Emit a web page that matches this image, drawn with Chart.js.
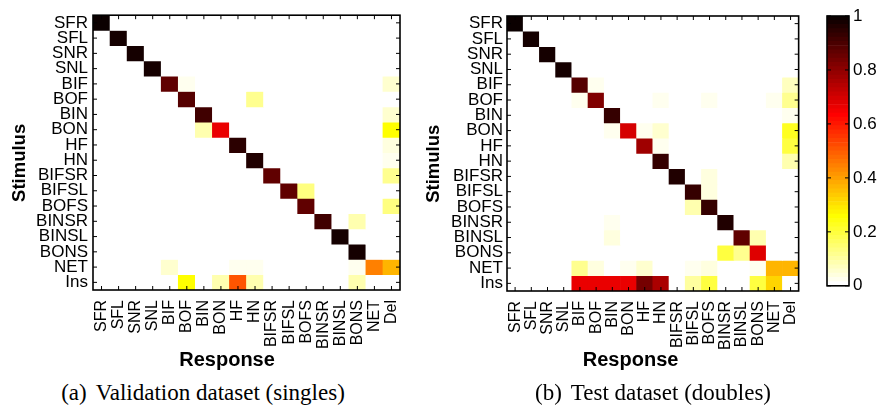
<!DOCTYPE html>
<html>
<head>
<meta charset="utf-8">
<script src="https://cdn.jsdelivr.net/npm/chart.js@4.4.0/dist/chart.umd.min.js"></script>
<style>
  body { margin: 0; background: #fff; }
  #wrap { position: relative; width: 881px; height: 407px; overflow: hidden; }
  .box { position: absolute; }
  .cap { position: absolute; top: 381px; width: 400px; text-align: center; white-space: nowrap;
         font-family: "Liberation Serif", "Times New Roman", serif; font-size: 23px; line-height: 23px; color: #000; }
  .cap span + span { margin-left: 9px; }
</style>
</head>
<body>
<div id="wrap">
  <div class="box" style="left:0;top:0;width:440px;height:375px"><canvas id="valid"></canvas></div>
  <div class="box" style="left:415px;top:0;width:405px;height:375px"><canvas id="test"></canvas></div>
  <div class="box" style="left:820px;top:0;width:61px;height:300px"><canvas id="bar"></canvas></div>
  <div class="cap" style="left:3px"><span>(a)</span><span>Validation dataset (singles)</span></div>
  <div class="cap" style="left:453px"><span>(b)</span><span>Test dataset (doubles)</span></div>
</div>
<script>
const responses = ['SFR', 'SFL', 'SNR', 'SNL', 'BIF', 'BOF', 'BIN', 'BON', 'HF', 'HN',
  'BIFSR', 'BIFSL', 'BOFS', 'BINSR', 'BINSL', 'BONS', 'NET', 'Del'];
const stimuli = ['SFR', 'SFL', 'SNR', 'SNL', 'BIF', 'BOF', 'BIN', 'BON', 'HF', 'HN',
  'BIFSR', 'BIFSL', 'BOFS', 'BINSR', 'BINSL', 'BONS', 'NET', 'Ins'];

// rows = stimulus, columns = response
const validation = [
  [0.99, 0, 0, 0, 0, 0, 0, 0, 0, 0, 0, 0, 0, 0, 0, 0, 0, 0],
  [0, 0.98, 0, 0, 0, 0, 0, 0, 0, 0, 0, 0, 0, 0, 0, 0, 0, 0],
  [0, 0, 0.98, 0, 0, 0, 0, 0, 0, 0, 0, 0, 0, 0, 0, 0, 0, 0],
  [0, 0, 0, 0.98, 0, 0, 0, 0, 0, 0, 0, 0, 0, 0, 0, 0, 0, 0],
  [0, 0, 0, 0, 0.87, 0.03, 0, 0, 0, 0, 0, 0, 0, 0, 0, 0, 0, 0.06],
  [0, 0, 0, 0, 0, 0.89, 0, 0, 0, 0.11, 0, 0, 0, 0, 0, 0, 0, 0],
  [0, 0, 0, 0, 0, 0, 0.92, 0, 0, 0, 0, 0, 0, 0, 0, 0, 0, 0.06],
  [0, 0, 0, 0, 0, 0, 0.08, 0.66, 0, 0, 0, 0, 0, 0, 0, 0, 0, 0.25],
  [0, 0, 0, 0, 0, 0, 0, 0, 0.95, 0, 0, 0, 0, 0, 0, 0, 0, 0.04],
  [0, 0, 0, 0, 0, 0, 0, 0, 0, 0.96, 0, 0, 0, 0, 0, 0, 0, 0.03],
  [0, 0, 0, 0, 0, 0, 0, 0, 0, 0, 0.87, 0, 0, 0, 0, 0, 0, 0.12],
  [0, 0, 0, 0, 0, 0, 0, 0, 0, 0, 0, 0.87, 0.13, 0, 0, 0, 0, 0],
  [0, 0, 0, 0, 0, 0, 0, 0, 0, 0, 0, 0, 0.87, 0, 0, 0, 0, 0.13],
  [0, 0, 0, 0, 0, 0, 0, 0, 0, 0, 0, 0, 0, 0.91, 0, 0.08, 0, 0],
  [0, 0, 0, 0, 0, 0, 0, 0, 0, 0, 0, 0, 0, 0, 0.97, 0, 0, 0],
  [0, 0, 0, 0, 0, 0, 0, 0, 0, 0, 0, 0, 0, 0, 0, 0.98, 0, 0],
  [0, 0, 0, 0, 0.05, 0, 0, 0, 0.03, 0.03, 0, 0, 0, 0, 0, 0.03, 0.44, 0.37],
  [0, 0, 0, 0, 0, 0.25, 0, 0.09, 0.51, 0.09, 0, 0, 0, 0, 0, 0.09, 0, 0]
];

const test = [
  [0.99, 0, 0, 0, 0, 0, 0, 0, 0, 0, 0, 0, 0, 0, 0, 0, 0, 0],
  [0, 0.98, 0, 0, 0, 0, 0, 0, 0, 0, 0, 0, 0, 0, 0, 0, 0, 0],
  [0, 0, 0.98, 0, 0, 0, 0, 0, 0, 0, 0, 0, 0, 0, 0, 0, 0, 0],
  [0, 0, 0, 0.98, 0, 0, 0, 0, 0, 0, 0, 0, 0, 0, 0, 0, 0, 0],
  [0, 0, 0, 0, 0.88, 0.03, 0, 0, 0, 0, 0, 0, 0, 0, 0, 0, 0, 0.07],
  [0, 0, 0, 0, 0.03, 0.82, 0, 0, 0, 0.02, 0, 0, 0.02, 0, 0, 0, 0.02, 0.12],
  [0, 0, 0, 0, 0, 0, 0.93, 0, 0, 0, 0, 0, 0, 0, 0, 0, 0, 0.03],
  [0, 0, 0, 0, 0, 0, 0.03, 0.69, 0.03, 0.05, 0, 0, 0, 0, 0, 0, 0, 0.22],
  [0, 0, 0, 0, 0, 0, 0, 0, 0.77, 0.03, 0, 0, 0, 0, 0, 0, 0, 0.2],
  [0, 0, 0, 0, 0, 0, 0, 0, 0, 0.93, 0, 0, 0, 0, 0, 0, 0, 0.08],
  [0, 0, 0, 0, 0, 0, 0, 0, 0, 0, 0.96, 0, 0.04, 0, 0, 0, 0, 0],
  [0, 0, 0, 0, 0, 0, 0, 0, 0, 0, 0, 0.93, 0.04, 0, 0, 0, 0, 0],
  [0, 0, 0, 0, 0, 0, 0, 0, 0, 0, 0, 0.08, 0.93, 0, 0, 0, 0, 0],
  [0, 0, 0, 0, 0, 0, 0.03, 0, 0, 0, 0, 0, 0, 0.96, 0, 0, 0, 0],
  [0, 0, 0, 0, 0, 0, 0.04, 0, 0, 0, 0, 0, 0, 0, 0.87, 0.08, 0, 0],
  [0, 0, 0, 0, 0, 0, 0, 0, 0, 0, 0, 0, 0, 0.2, 0.12, 0.68, 0, 0],
  [0, 0, 0, 0, 0.12, 0.04, 0, 0.02, 0.05, 0, 0, 0.02, 0.04, 0, 0, 0.02, 0.37, 0.37],
  [0, 0, 0, 0, 0.66, 0.66, 0.66, 0.66, 0.83, 0.76, 0, 0.1, 0.19, 0, 0, 0.19, 0.32, 0]
];

const colorbarTicks = [0, 0.2, 0.4, 0.6, 0.8, 1];

// matlab hot(64), flipped so 0 is white and 1 is black
const NLEV = 64;
const colormap = [];
for (let i = NLEV; i >= 1; i--) {
  const r = i <= 24 ? i / 24 : 1;
  const g = i <= 24 ? 0 : (i <= 48 ? (i - 24) / 24 : 1);
  const b = i <= 48 ? 0 : (i - 48) / 16;
  colormap.push(`rgb(${Math.round(r * 255)},${Math.round(g * 255)},${Math.round(b * 255)})`);
}
const shade = v => colormap[Math.min(NLEV - 1, Math.floor(v * NLEV))];

Chart.defaults.font.family = '"Liberation Sans", Arial, sans-serif';
Chart.defaults.color = '#000';

// box around the plot with matlab style inward ticks
const frame = {
  id: 'frame',
  afterDatasetsDraw(chart, args, opts) {
    const { ctx, chartArea: a, scales: { x, y } } = chart;
    ctx.save();
    ctx.strokeStyle = '#000';
    ctx.lineWidth = 1;
    ctx.beginPath();
    if (opts.xTicks !== false) {
      x.ticks.forEach((t, i) => {
        const px = x.getPixelForTick(i);
        ctx.moveTo(px, a.bottom); ctx.lineTo(px, a.bottom - 4);
        ctx.moveTo(px, a.top); ctx.lineTo(px, a.top + 4);
      });
    }
    y.ticks.forEach((t, i) => {
      const py = y.getPixelForTick(i);
      ctx.moveTo(a.left, py); ctx.lineTo(a.left + 4, py);
      ctx.moveTo(a.right, py); ctx.lineTo(a.right - 4, py);
    });
    ctx.stroke();
    ctx.lineWidth = 1.6;
    ctx.strokeRect(a.left, a.top, a.width, a.height);
    ctx.restore();
  }
};

const pad = n => '\u00a0'.repeat(n);

function heatmap(id, matrix, o) {
  const datasets = stimuli.map((s, r) => ({
    label: s,
    data: responses.map(() => [r, r + 1]),
    backgroundColor: matrix[r].map(shade),
    borderWidth: 0,
    barPercentage: 1,
    categoryPercentage: 1,
    grouped: false
  }));
  new Chart(document.getElementById(id), {
    type: 'bar',
    data: { labels: responses, datasets },
    plugins: [frame],
    options: {
      responsive: true,
      maintainAspectRatio: false,
      animation: false,
      layout: { padding: { left: 0, top: o.top, right: o.right, bottom: 0 } },
      plugins: { legend: { display: false }, tooltip: { enabled: false } },
      scales: {
        x: {
          grid: { display: false, drawTicks: false },
          border: { display: false },
          ticks: { autoSkip: false, minRotation: 90, maxRotation: 90, padding: 10, font: { size: 16 } },
          title: { display: true, text: 'Response' + pad(o.xShift), font: { size: 20, weight: 'bold' }, padding: { top: 0, bottom: 3 } },
          afterFit: s => { s.width = s.width; s.height = o.xHeight; }
        },
        y: {
          type: 'linear',
          reverse: true,
          min: 0,
          max: stimuli.length,
          grid: { display: false, drawTicks: false },
          border: { display: false },
          afterBuildTicks: s => { s.ticks = stimuli.map((_, i) => ({ value: i + 0.5 })); },
          ticks: { autoSkip: false, callback: (v, i) => stimuli[i], padding: o.yPad, font: { size: 17 } },
          title: { display: true, text: 'Stimulus' + pad(4), font: { size: 18.5, weight: 'bold' }, padding: { top: o.yTitlePad, bottom: 0 } },
          afterFit: s => { s.width = o.yWidth; }
        }
      }
    }
  });
}

heatmap('valid', validation, { top: 8, right: 40, xHeight: 85, yWidth: 93, yPad: 5, yTitlePad: 9, xShift: 7 });
heatmap('test', test, { top: 16, right: 9, xHeight: 84, yWidth: 92, yPad: 4, yTitlePad: 8, xShift: 8 });

// colour bar
new Chart(document.getElementById('bar'), {
  type: 'bar',
  data: {
    labels: [''],
    datasets: colormap.map((c, k) => ({
      data: [[k / NLEV, (k + 1) / NLEV]],
      backgroundColor: c,
      borderWidth: 0,
      barPercentage: 1,
      categoryPercentage: 1,
      grouped: false
    }))
  },
  plugins: [frame],
  options: {
    responsive: true,
    maintainAspectRatio: false,
    animation: false,
    layout: { padding: { left: 7, top: 16, right: 0, bottom: 8 } },
    plugins: { legend: { display: false }, tooltip: { enabled: false }, frame: { xTicks: false } },
    scales: {
      x: { display: false },
      y: {
        position: 'right',
        min: 0,
        max: 1,
        grid: { display: false, drawTicks: false },
        border: { display: false },
        afterBuildTicks: s => { s.ticks = colorbarTicks.map(v => ({ value: v })); },
        ticks: { autoSkip: false, callback: v => String(v), padding: 4, font: { size: 17 } },
        afterFit: s => { s.width = 32; }
      }
    }
  }
});
</script>
</body>
</html>
